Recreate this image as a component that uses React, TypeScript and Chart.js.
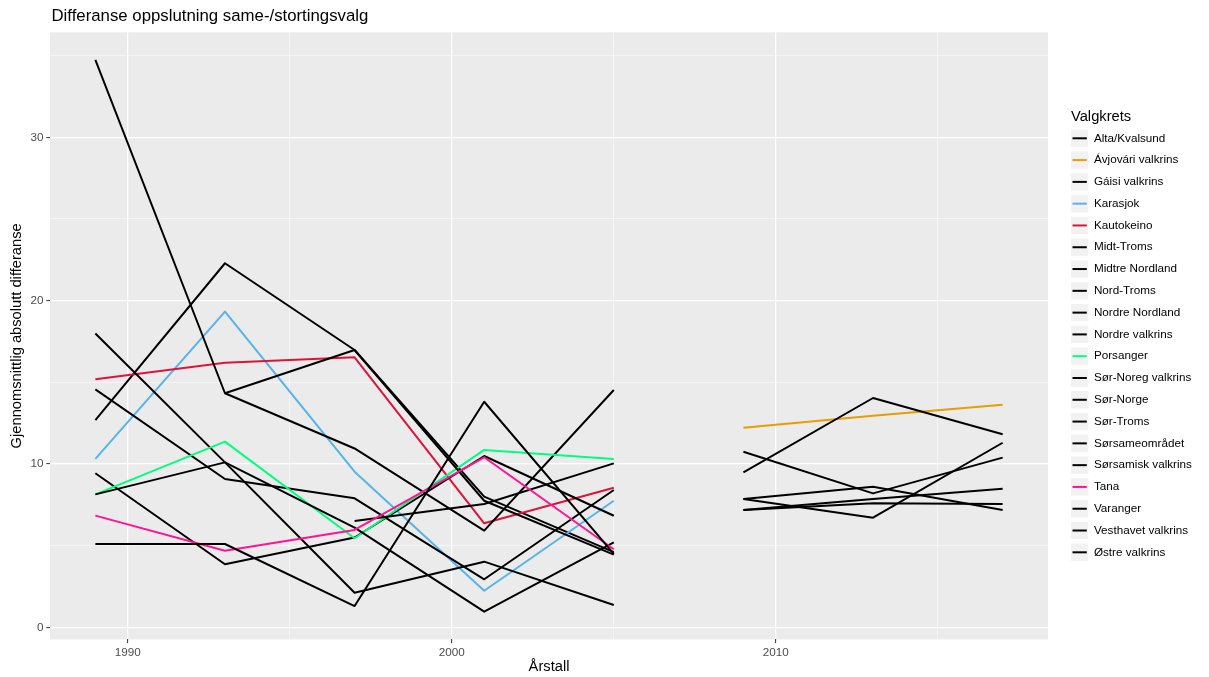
import React, { useEffect, useRef } from "react";
import { Chart, registerables } from "chart.js";

Chart.register(...registerables);

const FONT = "'Liberation Sans', Arial, Helvetica, sans-serif";

const chartTitle = "Differanse oppslutning same-/stortingsvalg";
const xTitle = "Årstall";
const yTitle = "Gjennomsnittlig absolutt differanse";
const legendTitle = "Valgkrets";

const years1 = [1989, 1993, 1997, 2001, 2005];
const years2 = [2009, 2013, 2017];
const xTickValues = [1990, 1995, 2000, 2005, 2010, 2015];
const yTickValues = [0, 5, 10, 15, 20, 25, 30, 35];

// Sametingsvalg 1989-2005
const altaKvalsund = [12.69, 22.29, 16.98, 8.0, 4.6];
const karasjok = [10.31, 19.33, 9.53, 2.24, 7.75];
const kautokeino = [15.19, 16.2, 16.53, 6.37, 8.55];
const midtTroms = [34.74, 14.33, 10.95, 5.92, 14.53];
const midtreNordland = [17.99, 10.1, 2.12, 4.02, 1.37];
const nordTroms = [14.57, 9.08, 7.9, 2.94, 8.41];
const nordreNordland = [9.43, 3.86, 5.5, 10.49, 6.83];
const porsanger = [8.14, 11.37, 5.45, 10.86, 10.31];
const sorNorge = [null, 14.33, 16.98, 7.75, 4.45];
const sorTroms = [8.14, 10.1, 6.1, 0.96, 5.2];
const sorsameomradet = [null, null, 6.51, 7.55, 10.04];
const tana = [6.84, 4.69, 5.96, 10.41, 4.78];
const varanger = [5.1, 5.1, 1.3, 13.81, 4.5];

// Sametingsvalg 2009-2017
const avjovari = [12.22, 12.95, 13.63];
const gaisi = [9.49, 14.04, 11.82];
const nordreValkrins = [10.75, 8.2, 10.39];
const sorNoreg = [7.86, 8.61, 7.18];
const sorsamisk = [7.86, 6.71, 11.3];
const vesthavet = [7.18, 7.85, 8.49];
const ostre = [7.18, 7.59, 7.55];

const BLACK = "#000000";

const series = [
  { name: "Alta/Kvalsund", years: years1, values: altaKvalsund, color: BLACK },
  { name: "Ávjovári valkrins", years: years2, values: avjovari, color: "#E69F00" },
  { name: "Gáisi valkrins", years: years2, values: gaisi, color: BLACK },
  { name: "Karasjok", years: years1, values: karasjok, color: "#56B4E9" },
  { name: "Kautokeino", years: years1, values: kautokeino, color: "#DC143C" },
  { name: "Midt-Troms", years: years1, values: midtTroms, color: BLACK },
  { name: "Midtre Nordland", years: years1, values: midtreNordland, color: BLACK },
  { name: "Nord-Troms", years: years1, values: nordTroms, color: BLACK },
  { name: "Nordre Nordland", years: years1, values: nordreNordland, color: BLACK },
  { name: "Nordre valkrins", years: years2, values: nordreValkrins, color: BLACK },
  { name: "Porsanger", years: years1, values: porsanger, color: "#00FF7F" },
  { name: "Sør-Noreg valkrins", years: years2, values: sorNoreg, color: BLACK },
  { name: "Sør-Norge", years: years1, values: sorNorge, color: BLACK },
  { name: "Sør-Troms", years: years1, values: sorTroms, color: BLACK },
  { name: "Sørsameområdet", years: years1, values: sorsameomradet, color: BLACK },
  { name: "Sørsamisk valkrins", years: years2, values: sorsamisk, color: BLACK },
  { name: "Tana", years: years1, values: tana, color: "#FF1493" },
  { name: "Varanger", years: years1, values: varanger, color: BLACK },
  { name: "Vesthavet valkrins", years: years2, values: vesthavet, color: BLACK },
  { name: "Østre valkrins", years: years2, values: ostre, color: BLACK },
];

const isMajor = (v: number) => Math.abs(v % 10) < 1e-9;

const ggPlugin = {
  id: "ggstyle",
  beforeDraw(chart: any) {
    const { ctx, chartArea: a } = chart;
    ctx.save();
    ctx.fillStyle = "#EBEBEB";
    ctx.fillRect(a.left, a.top, a.right - a.left, a.bottom - a.top);
    ctx.restore();
  },
  afterDraw(chart: any) {
    const { ctx, chartArea: a } = chart;
    ctx.save();
    ctx.textAlign = "left";
    ctx.textBaseline = "middle";
    ctx.fillStyle = "#000000";
    ctx.font = `16.8px ${FONT}`;
    ctx.fillText(chartTitle, a.left + 1.5, 16);

    const lx = a.right + 23;
    ctx.font = `14.7px ${FONT}`;
    ctx.fillText(legendTitle, lx, 117);
    const step = 21.79;
    const y0 = 138.3;
    const key = 17.3;
    series.forEach((s, i) => {
      const cy = y0 + i * step;
      ctx.fillStyle = "#F2F2F2";
      ctx.fillRect(lx, cy - key / 2, key, key);
      ctx.strokeStyle = s.color;
      ctx.lineWidth = 2;
      ctx.beginPath();
      ctx.moveTo(lx + 1.5, cy);
      ctx.lineTo(lx + key - 1.5, cy);
      ctx.stroke();
      ctx.fillStyle = "#000000";
      ctx.font = `11.7px ${FONT}`;
      ctx.fillText(s.name, lx + key + 5.6, cy);
    });
    ctx.restore();
  },
};

export default function App() {
  const canvasRef = useRef<HTMLCanvasElement | null>(null);

  useEffect(() => {
    if (!canvasRef.current) return;
    const n = series.length;
    const datasets = series.map((s, i) => ({
      label: s.name,
      data: s.years.map((yr, j) => ({ x: yr, y: s.values[j] })),
      borderColor: s.color,
      backgroundColor: s.color,
      borderWidth: 2,
      pointRadius: 0,
      pointHoverRadius: 0,
      tension: 0,
      fill: false,
      spanGaps: false,
      borderJoinStyle: "round" as const,
      order: n - i,
    }));

    const gridColor = (c: any) =>
      isMajor(c.tick.value) ? "#FFFFFF" : "rgba(255,255,255,0.85)";
    const gridWidth = (c: any) => (isMajor(c.tick.value) ? 1.2 : 0.6);
    const tickColor = (c: any) =>
      isMajor(c.tick.value) ? "#333333" : "rgba(0,0,0,0)";

    const chart = new Chart(canvasRef.current, {
      type: "line",
      data: { datasets },
      plugins: [ggPlugin],
      options: {
        animation: false,
        responsive: true,
        maintainAspectRatio: false,
        layout: { padding: { top: 32.3, right: 161, left: 0, bottom: 0 } },
        plugins: {
          legend: { display: false },
          title: { display: false },
          tooltip: { enabled: false },
        },
        scales: {
          x: {
            type: "linear",
            min: 1987.6,
            max: 2018.4,
            afterBuildTicks: (scale: any) => {
              scale.ticks = xTickValues.map((v) => ({ value: v }));
            },
            afterFit: (scale: any) => {
              scale.height = 37.6;
            },
            ticks: {
              autoSkip: false,
              maxRotation: 0,
              padding: 2.5,
              color: "#4D4D4D",
              font: { family: FONT, size: 11.7 },
              callback: (v: any) => (isMajor(Number(v)) ? String(v) : ""),
            },
            grid: {
              color: gridColor,
              lineWidth: gridWidth,
              tickColor,
              tickLength: 3.7,
              tickWidth: 1,
              drawTicks: true,
            },
            border: { display: false },
            title: {
              display: true,
              text: xTitle,
              color: "#000000",
              font: { family: FONT, size: 14.7 },
              padding: { top: 0, bottom: 1 },
            },
          },
          y: {
            type: "linear",
            min: -0.74,
            max: 36.43,
            afterBuildTicks: (scale: any) => {
              scale.ticks = yTickValues.map((v) => ({ value: v }));
            },
            afterFit: (scale: any) => {
              scale.width = 50;
            },
            ticks: {
              autoSkip: false,
              padding: 2.9,
              color: "#4D4D4D",
              font: { family: FONT, size: 11.7 },
              callback: (v: any) => (isMajor(Number(v)) ? String(v) : ""),
            },
            grid: {
              color: gridColor,
              lineWidth: gridWidth,
              tickColor,
              tickLength: 3.7,
              tickWidth: 1,
              drawTicks: true,
            },
            border: { display: false },
            title: {
              display: true,
              text: yTitle,
              color: "#000000",
              font: { family: FONT, size: 14.7 },
              padding: { top: 8, bottom: 0 },
            },
          },
        },
      },
    });
    return () => chart.destroy();
  }, []);

  return (
    <div
      style={{
        position: "fixed",
        left: 0,
        top: 0,
        width: "1209px",
        height: "677px",
        background: "#FFFFFF",
      }}
    >
      <canvas ref={canvasRef} />
    </div>
  );
}
